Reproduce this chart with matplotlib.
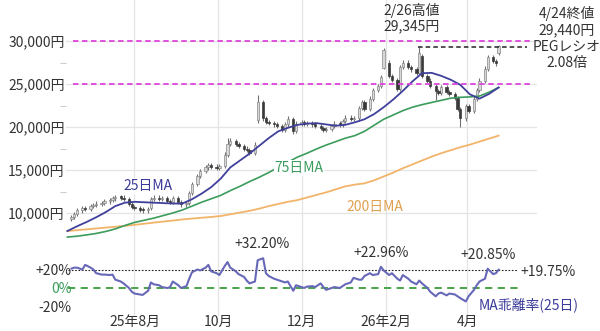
import matplotlib
matplotlib.use('Agg')
import matplotlib.pyplot as plt
import matplotlib.ticker as mticker
import pandas as pd
import numpy as np

plt.rcParams['font.family'] = ['Noto Sans CJK JP', 'DejaVu Sans']

# ---------------- data ----------------
candle_dates = pd.bdate_range(end='2026-04-24', periods=113, freq='2B')
opens = [9300, 9500, 9900, 10300, 10600, 10450, 10800, 10950, 11100, 11200,
         11350, 11500, 11700, 11900, 11800, 11600, 11100, 10700, 10600, 10400,
         10300, 10600, 11600, 11800, 11600, 11700, 11400, 11300, 11700, 11300,
         11000, 11200, 12300, 13400, 14300, 14900, 15300, 15600, 15400, 15200,
         15500, 16800, 18000, 18400, 18000, 17800, 17500, 17300, 17000, 20800,
         22900, 21000, 20600, 20500, 20300, 20100, 19700, 20300, 20900, 19500,
         20400, 20600, 20400, 20500, 20300, 20100, 19900, 19700, 19800, 20100,
         20400, 20300, 20700, 21100, 20900, 21000, 22200, 22900, 22100, 23300,
         24300, 24800, 26900, 27500, 25900, 25500, 24400, 27000, 27500, 27000,
         26700, 26300, 28200, 25900, 25400, 24800, 24200, 24000, 24600, 24100,
         23800, 23400, 22100, 21000, 22400, 21900, 23300, 24300, 25400, 26800,
         28100, 27700, 28600]
closes = [9500, 9900, 10300, 10600, 10450, 10800, 10950, 11100, 11200, 11350,
          11500, 11700, 11900, 11800, 11600, 11100, 10700, 10600, 10400, 10300,
          10500, 11600, 11800, 11600, 11700, 11400, 11300, 11700, 11300, 11000,
          11200, 12300, 13400, 14300, 14900, 15300, 15600, 15400, 15200, 15500,
          16800, 18000, 18400, 18000, 17800, 17500, 17300, 17000, 17900, 22900,
          21000, 20600, 20500, 20300, 20100, 19700, 20300, 20900, 19500, 20400,
          20600, 20400, 20500, 20300, 20100, 19900, 19700, 19800, 20100, 20400,
          20300, 20700, 21100, 20900, 21000, 22200, 22900, 22100, 23300, 24300,
          24800, 25800, 29000, 25900, 25500, 24400, 27000, 27500, 27000, 26700,
          26300, 28600, 25900, 25400, 24800, 24200, 24000, 24600, 24100, 23800,
          23400, 22100, 21000, 22400, 21900, 23300, 24300, 25400, 26800, 28100,
          27700, 27400, 29440]
highs = [9750, 10150, 10550, 10850, 10850, 11050, 11200, 11350, 11450, 11600,
         11750, 11950, 12150, 12150, 12050, 11850, 11350, 10950, 10850, 10650,
         10750, 11850, 12050, 12050, 11950, 11950, 11650, 11950, 11950, 11550,
         11450, 12550, 13650, 14550, 15150, 15550, 15850, 15850, 15650, 15750,
         17050, 18700, 18700, 18650, 18250, 18050, 17750, 17550, 18300, 23700,
         23100, 21250, 20850, 20750, 20550, 20350, 20550, 21300, 21150, 20650,
         20850, 20850, 20750, 20750, 20550, 20350, 20150, 20050, 20350, 20650,
         20650, 20950, 21350, 21350, 21250, 22450, 23150, 23150, 23550, 24550,
         25050, 26050, 29200, 27750, 26150, 25750, 27250, 27750, 27750, 27250,
         26950, 29345, 28450, 26150, 25650, 25050, 24450, 24850, 24850, 24350,
         24050, 23650, 22350, 22650, 22650, 23550, 24550, 25650, 27050, 28350,
         28350, 27950, 29500]
lows = [9050, 9250, 9650, 10050, 10200, 10200, 10550, 10700, 10850, 10950,
        11100, 11250, 11450, 11550, 11350, 10850, 10450, 10350, 10150, 10050,
        10050, 10350, 11350, 11350, 11350, 11150, 11050, 11050, 11050, 10750,
        10750, 10950, 12050, 13150, 14050, 14650, 15050, 15150, 14950, 14950,
        15250, 16550, 17750, 17750, 17550, 17250, 17050, 16750, 16750, 20500,
        20700, 20350, 20250, 20050, 19850, 19450, 19450, 20050, 19200, 19250,
        20150, 20150, 20150, 20050, 19850, 19650, 19450, 19450, 19550, 19850,
        20050, 20050, 20450, 20650, 20650, 20750, 21950, 21850, 21850, 23050,
        24050, 24550, 26700, 25650, 25250, 24150, 24150, 26750, 26750, 26450,
        26050, 26050, 25650, 25150, 24550, 23100, 23750, 23750, 23850, 23550,
        23150, 21850, 20000, 20750, 21650, 21650, 23050, 24050, 25150, 26550,
        27450, 27150, 28350]

ma_dates = pd.bdate_range(end='2026-04-24', periods=46, freq='5B')
ma25 = [7900, 8450, 8950, 9500, 10100, 10800, 11200, 11300, 11250, 11200,
        11150, 11100, 11100, 11600, 12250, 13000, 14000, 15300, 16100, 16900,
        17800, 18700, 19500, 19900, 20250, 20400, 20450, 20300, 20150, 20250,
        20550, 20900, 21500, 22300, 23200, 24200, 25300, 26250, 26300, 25950,
        25500, 24900, 23800, 23300, 23850, 24600]
ma75 = [7200, 7300, 7450, 7620, 7850, 8150, 8550, 8900, 9150, 9400,
        9700, 10000, 10350, 10800, 11250, 11650, 12050, 12600, 13100, 13650,
        14150, 14700, 15300, 15900, 16500, 16950, 17450, 17900, 18300, 18700,
        19000, 19500, 20200, 20900, 21400, 21900, 22300, 22600, 22850, 23100,
        23350, 23450, 23500, 23600, 24050, 24600]
ma200 = [7900, 8000, 8100, 8200, 8300, 8400, 8500, 8620, 8750, 8880,
         9000, 9120, 9250, 9350, 9450, 9540, 9650, 9850, 10050, 10250,
         10500, 10800, 11050, 11300, 11500, 11800, 12100, 12400, 12750, 13100,
         13300, 13450, 13800, 14250, 14700, 15200, 15650, 16100, 16550, 16950,
         17300, 17650, 17950, 18300, 18650, 19000]

deviation = [21, 22, 22, 20, 25, 22, 20, 16, 14.5, 14.5,
             14, 14.5, 9, 7, 5, 0, -4, -6, -7, -7.5,
             -3, 6, 4, 3, 1, 0, 1, 7, 3, 0,
             2, 10, 17, 20, 19, 22, 25, 18, 16, 14,
             24, 28, 22, 18, 15, 12, 8, 5, 7, 30,
             32.2, 16, 13, 10, 9, 7, 6, 7, -3, 3,
             1, 0, 1.5, 2, 1, 5, 1, -2, 0, 1,
             0, 2, 4, 6, 11, 9, 9, 13, 16, 14,
             15, 22.96, 19, 14, 16, 10, 8, 14, 10, 7,
             4, 8, 5, 0, -4, -9, -6, -5, -8, -6,
             -7, -9, -11, -14.6, -9, -2, 3, 7, 10, 20.85,
             15, 16, 19.75]

month_ticks = pd.to_datetime(['2025-08-01', '2025-10-01', '2025-12-01', '2026-02-01', '2026-04-01'])
month_labels = ['25年8月', '10月', '12月', '26年2月', '4月']
price_ticks = [10000, 15000, 20000, 25000, 30000]
price_labels = ['10,000円', '15,000円', '20,000円', '25,000円', '30,000円']
guide_levels = [30000, 25000]
high_0226 = 29345
dev_ticks = [20, 0, -20]
dev_labels = ['+20%', '0%', '-20%']
dev_last = 19.75

# ---------------- figure ----------------
W, H = 600, 331
fig = plt.figure(figsize=(6, 3.31), dpi=100)

def fx(px):
    return px / W

def fy(py):
    return 1 - py / H

ax_left, ax_right = 66, 537
ax = fig.add_axes([fx(ax_left), fy(240), fx(ax_right - ax_left), 240 / H])
ax2 = fig.add_axes([fx(ax_left), fy(316), fx(ax_right - ax_left), 76 / H])

xmin = pd.Timestamp('2025-06-12')
xmax = pd.Timestamp('2026-05-22')
grid_c = '#e4e4e4'

for a in (ax, ax2):
    a.set_xlim(xmin, xmax)
    for s in a.spines.values():
        s.set_visible(False)
    a.set_xticks(month_ticks)
    for t in month_ticks:
        a.axvline(t, color=grid_c, lw=0.9, zorder=0)

# main panel
ax.set_ylim(6860, 34770)
for v in price_ticks:
    ax.axhline(v, color=grid_c, lw=0.9, zorder=0)
ax.set_yticks(price_ticks)
ax.set_yticklabels(price_labels)
ax.yaxis.set_minor_locator(mticker.FixedLocator([12500, 17500, 22500, 27500]))
ax.tick_params(axis='y', which='major', length=0, pad=1, labelsize=10, labelcolor='#333333')
ax.tick_params(axis='y', which='minor', length=4, width=0.8, color='#cccccc', direction='out')
ax.tick_params(axis='x', length=0, labelbottom=False)

o = np.array(opens, float)
c = np.array(closes, float)
hgh = np.array(highs, float)
low = np.array(lows, float)
up = c >= o
ax.vlines(candle_dates, low, hgh, color='#707070', lw=0.8, zorder=2)
body_lo = np.minimum(o, c)
body_h = np.maximum(np.abs(c - o), 120)
ax.bar(candle_dates[up], body_h[up], bottom=body_lo[up], width=1.7,
       color='#d8d8d8', edgecolor='#888888', linewidth=0.5, zorder=3)
ax.bar(candle_dates[~up], body_h[~up], bottom=body_lo[~up], width=1.7,
       color='#3a3a3a', edgecolor='#3a3a3a', linewidth=0.5, zorder=3)

ax.plot(ma_dates, ma200, color='#f2b46a', lw=1.3, zorder=4)
ax.plot(ma_dates, ma75, color='#3c9c5c', lw=1.2, zorder=4)
ax.plot(ma_dates, ma25, color='#40409c', lw=1.3, zorder=5)

span = ax_right - ax_left
for lv in guide_levels:
    ax.axhline(lv, xmin=(73 - ax_left) / span, xmax=(530 - ax_left) / span,
               color='#dd44dd', ls=(0, (3, 2)), lw=1.3, zorder=6)
ax.axhline(high_0226, xmin=(418 - ax_left) / span, xmax=(527 - ax_left) / span,
           color='#222222', ls=(0, (3, 2)), lw=1.1, zorder=6)

# lower panel (0% at y=288, 20% per ~18.5 px)
ax2.set_ylim(-30.3, 51.9)
ax2.set_yticks(dev_ticks)
ax2.set_yticklabels(dev_labels)
ax2.tick_params(axis='y', length=0, pad=-4, labelsize=10, labelcolor='#333333')
ax2.get_yticklabels()[1].set_color('#3c9c5c')
ax2.set_xticklabels(month_labels)
ax2.tick_params(axis='x', length=0, pad=-1, labelsize=10, labelcolor='#333333')
ax2.axhline(0, xmin=(68 - ax_left) / span, xmax=(522 - ax_left) / span,
            color='#3c9c3c', ls=(0, (4, 3)), lw=1.3, zorder=3)
ax2.axhline(dev_last, xmin=(68 - ax_left) / span, xmax=(517 - ax_left) / span,
            color='#222222', ls=(0, (1.5, 1.5)), lw=0.8, zorder=3)
ax2.plot(candle_dates, deviation, color='#6868b8', lw=1.5, zorder=4)

# texts
tk = dict(fontsize=10, color='#333333', ha='center', va='center')
fig.text(fx(148), fy(186), '25日MA', fontsize=10, color='#3b3b9a', ha='center', va='center',
         bbox=dict(facecolor='white', edgecolor='none', pad=0.5))
fig.text(fx(299), fy(168), '75日MA', fontsize=10, color='#3c9c5c', ha='center', va='center',
         bbox=dict(facecolor='white', edgecolor='none', pad=0.5))
fig.text(fx(375), fy(207), '200日MA', fontsize=10, color='#e0a050', ha='center', va='center')
fig.text(fx(412), fy(10), '2/26高値', **tk)
fig.text(fx(412), fy(26), '29,345円', **tk)
fig.text(fx(567), fy(13), '4/24終値', **tk)
fig.text(fx(567), fy(30), '29,440円', **tk)
fig.text(fx(567), fy(47), 'PEGレシオ', **tk)
fig.text(fx(567), fy(63), '2.08倍', **tk)
fig.text(fx(262), fy(244), '+32.20%', **tk)
fig.text(fx(381), fy(253), '+22.96%', **tk)
fig.text(fx(488), fy(255), '+20.85%', **tk)
fig.text(fx(520), fy(272), '+19.75%', fontsize=10, color='#333333', ha='left', va='center')
fig.text(fx(529), fy(305), 'MA乖離率(25日)', fontsize=10, color='#3b3b9a', ha='center', va='center')

fig.savefig('out.png', dpi=100)
